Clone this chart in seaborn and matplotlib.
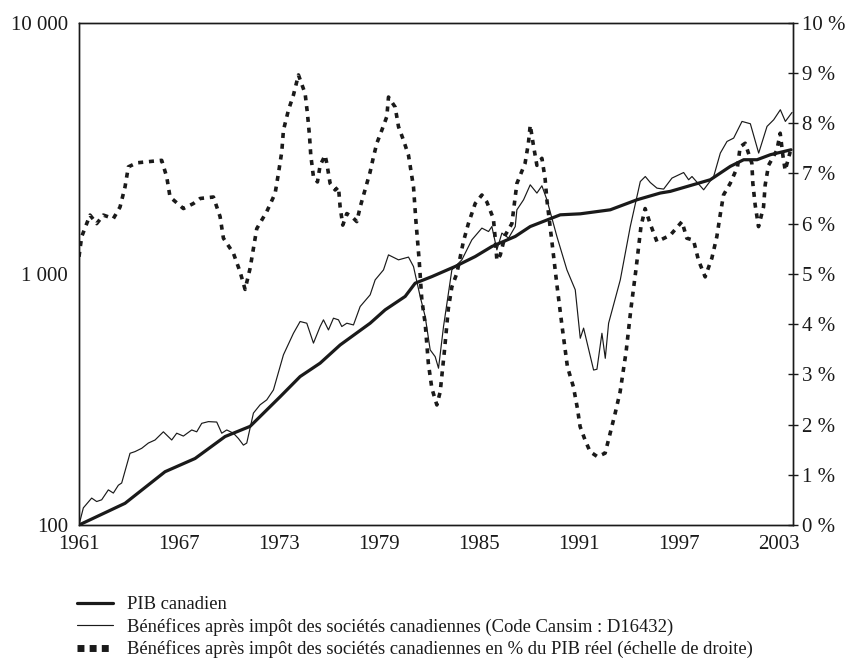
import pandas as pd
import matplotlib
matplotlib.use("Agg")
import matplotlib.pyplot as plt
import matplotlib.ticker as mticker
from matplotlib.lines import Line2D
import seaborn as sns

# PIB canadien (indice 1961 = 100, échelle log)
pib_years = [1961.0, 1963.76, 1966.16, 1967.96, 1969.76, 1971.26, 1973.06, 1974.26,
             1975.46, 1976.66, 1978.46, 1979.36, 1980.56, 1981.16, 1982.16, 1983.56,
             1984.76, 1985.76, 1987.16, 1988.06, 1989.86, 1991.06, 1992.86, 1994.46,
             1995.86, 1996.46, 1998.86, 2000.06, 2000.86, 2001.66, 2002.46, 2003.7]
pib_values = [100, 122, 163, 184, 225, 247, 324, 390,
              441, 521, 636, 719, 813, 918, 975, 1070,
              1172, 1285, 1409, 1543, 1718, 1734, 1799, 1972,
              2098, 2130, 2370, 2679, 2847, 2847, 2981, 3119]

# Bénéfices après impôt (indice 1961 = 100)
ben_years = [1961.0, 1961.26, 1961.76, 1962.06, 1962.36, 1962.76, 1963.06, 1963.36,
             1963.56, 1964.06, 1964.36, 1964.76, 1965.16, 1965.56, 1966.06, 1966.56,
             1966.86, 1967.26, 1967.76, 1968.06, 1968.36, 1968.76, 1969.26, 1969.56,
             1969.86, 1970.26, 1970.56, 1970.86, 1971.06, 1971.46, 1971.86, 1972.26,
             1972.66, 1973.26, 1973.86, 1974.26, 1974.66, 1975.06, 1975.46, 1975.66,
             1975.96, 1976.26, 1976.56, 1976.76, 1977.06, 1977.46, 1977.86, 1978.46,
             1978.76, 1979.26, 1979.56, 1980.16, 1980.76, 1981.06, 1981.46, 1981.76,
             1982.06, 1982.36, 1982.56, 1982.86, 1983.36, 1983.96, 1984.56, 1985.16,
             1985.56, 1985.76, 1986.06, 1986.36, 1986.76, 1987.16, 1987.26, 1987.66,
             1988.06, 1988.46, 1988.76, 1989.06, 1989.66, 1990.26, 1990.76, 1991.06,
             1991.26, 1991.86, 1992.06, 1992.36, 1992.56, 1992.76, 1993.46, 1994.06,
             1994.66, 1994.96, 1995.26, 1995.66, 1996.06, 1996.56, 1997.26, 1997.56,
             1997.76, 1998.46, 1999.06, 1999.46, 1999.86, 2000.26, 2000.76, 2001.26,
             2001.76, 2002.26, 2002.66, 2003.06, 2003.36, 2003.76]
ben_values = [100, 117, 128, 124, 126, 138, 134, 144,
              147, 193, 196, 202, 212, 218, 235, 218,
              232, 226, 239, 235, 254, 258, 257, 232,
              239, 232, 221, 208, 212, 279, 301, 315,
              345, 476, 580, 646, 636, 530, 617, 656,
              598, 666, 656, 617, 636, 626, 741, 825,
              946, 1037, 1190, 1137, 1166, 1069, 812, 676,
              498, 468, 421, 617, 1037, 1137, 1366, 1521,
              1474, 1543, 1246, 1453, 1388, 1543, 1799, 1972,
              2262, 2097, 2242, 1972, 1408, 1037, 864, 554,
              608, 414, 417, 580, 461, 636, 946, 1543,
              2331, 2441, 2310, 2194, 2175, 2406, 2532, 2369,
              2441, 2161, 2441, 3026, 3366, 3472, 4045, 3960,
              3026, 3864, 4107, 4502, 4045, 4392]

# Bénéfices en % du PIB réel (échelle de droite)
pct_years = [1961.0, 1961.16, 1961.66, 1962.06, 1962.46, 1963.06, 1963.46, 1963.76,
             1963.96, 1964.46, 1965.06, 1965.96, 1966.26, 1966.46, 1967.26, 1967.86,
             1968.26, 1969.06, 1969.46, 1969.66, 1970.26, 1970.66, 1970.96, 1971.26,
             1971.46, 1971.66, 1972.26, 1972.76, 1972.96, 1973.16, 1973.26, 1973.56,
             1973.86, 1974.16, 1974.56, 1974.7, 1974.82, 1974.9, 1975.06, 1975.3,
             1975.46, 1975.76, 1975.86, 1976.06, 1976.36, 1976.56, 1976.66, 1976.82,
             1977.06, 1977.36, 1977.66, 1977.86, 1978.26, 1978.46, 1978.66, 1978.86,
             1979.16, 1979.46, 1979.56, 1979.96, 1980.16, 1980.46, 1980.76, 1980.92,
             1981.06, 1981.2, 1981.4, 1981.56, 1981.76, 1981.95, 1982.16, 1982.46,
             1982.66, 1982.91, 1983.15, 1983.36, 1983.66, 1984.05, 1984.35, 1984.76,
             1985.16, 1985.46, 1985.85, 1985.96, 1986.06, 1986.26, 1986.56, 1986.96,
             1987.26, 1987.75, 1987.95, 1988.06, 1988.25, 1988.46, 1988.76, 1988.95,
             1989.06, 1989.36, 1989.66, 1989.96, 1990.29, 1990.65, 1990.89, 1991.05,
             1991.35, 1991.65, 1992.09, 1992.55, 1992.75, 1993.15, 1993.45, 1993.81,
             1994.1, 1994.41, 1994.7, 1994.95, 1995.25, 1995.66, 1996.46, 1997.16,
             1997.45, 1997.85, 1998.15, 1998.55, 1998.95, 1999.25, 1999.45, 1999.65,
             2000.05, 2000.49, 2000.65, 2000.95, 2001.35, 2001.41, 2001.55, 2001.75,
             2002.05, 2002.15, 2002.35, 2002.85, 2003.05, 2003.21, 2003.35, 2003.65]
pct_values = [5.34, 5.74, 6.17, 6.00, 6.17, 6.10, 6.33, 6.73,
              7.13, 7.21, 7.23, 7.26, 6.93, 6.53, 6.30, 6.40,
              6.50, 6.53, 6.14, 5.71, 5.41, 5.04, 4.69, 5.11,
              5.51, 5.90, 6.24, 6.60, 7.00, 7.43, 7.86, 8.26,
              8.56, 8.96, 8.59, 8.19, 7.76, 7.36, 6.93, 6.83,
              7.16, 7.36, 7.20, 6.80, 6.67, 6.73, 6.33, 5.97,
              6.20, 6.14, 6.04, 6.33, 6.80, 7.03, 7.33, 7.60,
              7.86, 8.13, 8.52, 8.32, 7.93, 7.66, 7.36, 7.03,
              6.73, 6.07, 5.27, 4.48, 4.01, 3.22, 2.72, 2.39,
              2.65, 3.45, 4.31, 4.74, 5.01, 5.64, 6.00, 6.40,
              6.57, 6.43, 6.10, 5.71, 5.27, 5.37, 5.77, 6.00,
              6.80, 7.20, 7.60, 7.96, 7.56, 7.16, 7.30, 6.90,
              6.47, 5.64, 4.78, 3.98, 3.15, 2.75, 2.32, 1.96,
              1.69, 1.46, 1.36, 1.43, 1.69, 2.22, 2.65, 3.45,
              4.31, 5.11, 5.94, 6.30, 6.00, 5.64, 5.77, 6.04,
              5.71, 5.67, 5.27, 4.94, 5.31, 5.74, 6.17, 6.57,
              6.80, 7.13, 7.53, 7.60, 7.20, 6.80, 6.37, 5.94,
              6.33, 6.77, 7.16, 7.46, 7.80, 7.36, 7.06, 7.43]

year_ticks = [1961, 1967, 1973, 1979, 1985, 1991, 1997, 2003]

legend_labels = [
    "PIB canadien",
    "Bénéfices après impôt des sociétés canadiennes (Code Cansim : D16432)",
    "Bénéfices après impôt des sociétés canadiennes en % du PIB réel (échelle de droite)",
]

sns.set_style("white")
plt.rcParams["font.family"] = ["Liberation Serif", "DejaVu Serif"]
ink = "#1a1a1a"

fig = plt.figure(figsize=(8.48, 6.58), dpi=100)
ax = fig.add_axes([79 / 848, 1 - 525 / 658, (792.7 - 79) / 848, (525 - 22.7) / 658])
ax2 = ax.twinx()

pib = pd.DataFrame({"annee": pib_years, "valeur": pib_values})
ben = pd.DataFrame({"annee": ben_years, "valeur": ben_values})
pct = pd.DataFrame({"annee": pct_years, "valeur": pct_values})

sns.lineplot(data=pib, x="annee", y="valeur", ax=ax, color=ink, linewidth=2.3, legend=False)
sns.lineplot(data=ben, x="annee", y="valeur", ax=ax, color=ink, linewidth=0.85, legend=False)
sns.lineplot(data=pct, x="annee", y="valeur", ax=ax2, color=ink, linewidth=2.6, legend=False)
ax2.lines[0].set_dashes([1.4, 1.6])
ax2.lines[0].set_dash_capstyle("butt")

ax.set_yscale("log")
ax.set_ylim(100, 10000)
ax.set_xlim(1961, 2003.8)
ax2.set_ylim(0, 10)

ax.set_xticks(year_ticks)
ax.set_xticklabels([str(y) for y in year_ticks])
ax.set_yticks([100, 1000, 10000])
ax.yaxis.set_major_formatter(mticker.FuncFormatter(lambda v, p: f"{int(round(v)):,}".replace(",", " ")))
ax.yaxis.set_minor_locator(mticker.NullLocator())
ax2.set_yticks(range(0, 11))
ax2.set_yticklabels([f"{i} %" for i in range(0, 11)])

ax.set_xlabel("")
ax.set_ylabel("")
ax2.set_ylabel("")

for a in (ax, ax2):
    for s in a.spines.values():
        s.set_color(ink)
        s.set_linewidth(1.0)

ax.tick_params(axis="x", direction="out", length=4, width=1, color=ink,
               labelsize=15, pad=3, labelcolor=ink)
ax.tick_params(axis="y", which="both", length=0, labelsize=15, pad=8, labelcolor=ink)
ax2.tick_params(axis="y", direction="inout", length=7, width=1, color=ink,
                labelsize=15, pad=3, labelcolor=ink)

# legend proxies (style only)
handles = [
    Line2D([], [], color=ink, linewidth=2.3),
    Line2D([], [], color=ink, linewidth=0.85),
    Line2D([], [], color=ink, linewidth=5, dashes=[1.0, 0.75], dash_capstyle="butt"),
]
fig.legend(handles, legend_labels, loc="upper left",
           bbox_to_anchor=(70 / 848, 1 - 589 / 658), frameon=False,
           fontsize=13.4, handlelength=1.9, handletextpad=0.75, labelspacing=0.24,
           borderaxespad=0, labelcolor=ink)

fig.savefig("out.png", dpi=100)
